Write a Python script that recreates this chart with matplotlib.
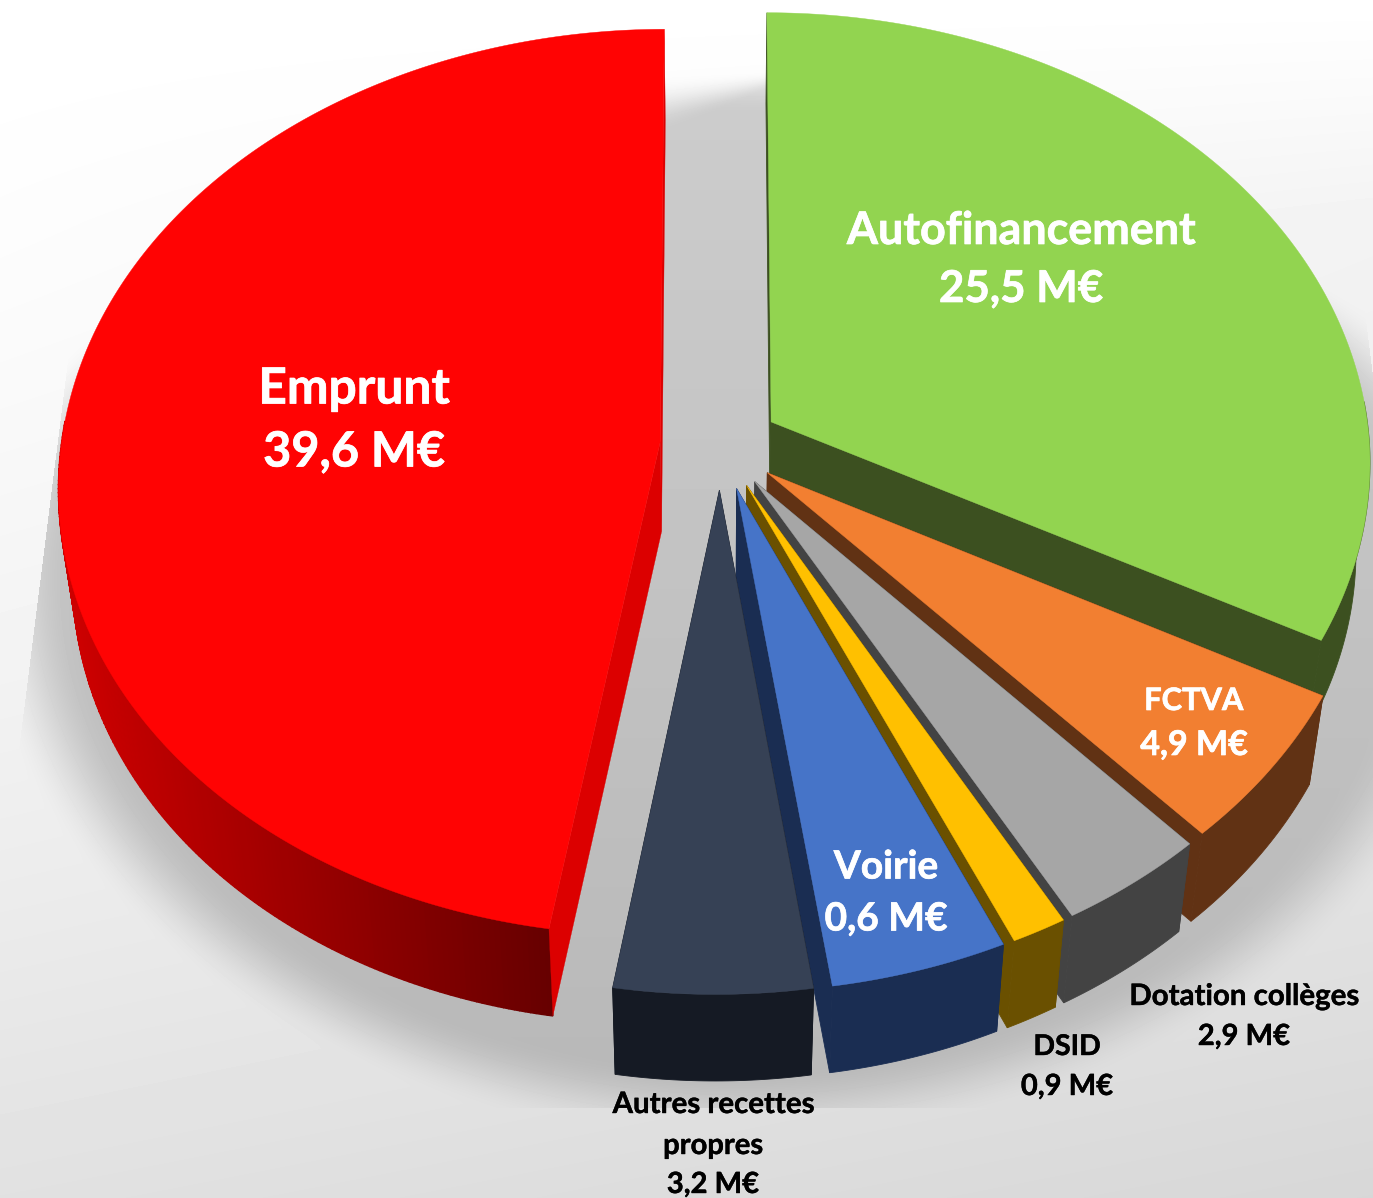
import numpy as np
import matplotlib
matplotlib.use("Agg")
import matplotlib.pyplot as plt
import matplotlib.patheffects as pe

# slices clockwise from 12 o'clock
names = ["Autofinancement", "FCTVA", "Dotation collèges", "DSID", "Voirie", "Autres recettes propres", "Emprunt"]
# share of the disc as drawn, in degrees (the "Voirie" slice is drawn bigger than its label says)
slice_degrees = [118, 19.7, 13.3, 4.9, 15.6, 17.4, 171]
top_colors = ["#92D450", "#F27F31", "#A6A6A6", "#FFC000", "#4674C8", "#364155", "#FF0303"]
wall_colors = ["#3C5020", "#613214", "#434343", "#6A5000", "#1A2D52", "#151A24", "#DC0000"]

white_labels = ["Autofinancement", "25,5 M€", "Emprunt", "39,6 M€", "FCTVA", "4,9 M€", "Voirie", "0,6 M€"]
white_sizes = [32.3, 31.6, 35.8, 35, 22.2, 24.5, 28, 28]
white_spots = [(1021, 231), (1021, 289), (354, 389), (354, 452), (1194, 701), (1194, 745), (886, 867), (886, 919)]
black_labels = ["Dotation collèges", "2,9 M€", "DSID", "0,9 M€", "Autres recettes", "propres", "3,2 M€"]
black_sizes = [21.2, 21, 20.5, 21, 21.2, 21, 21]
black_spots = [(1244, 997), (1244, 1037), (1067, 1047), (1067, 1087), (713, 1105), (713, 1146), (713, 1185)]

W, H = 1373, 1198
EXPLODE = 0.1
CX, CY, SX, SY = 720, 445, 599, 450
PERSP, DEPTH_W, DEPTH_Y = 0.09, 0.022, 92
SHEAR = 4


def project(px, py, low=0.0):
    w = 1 + PERSP * py + DEPTH_W * low
    # the near side of the disc leans a few pixels to the left
    lean = SHEAR * np.minimum(py, 0)
    return CX + SX * px / w + lean, CY + (-SY * py + DEPTH_Y * low) / w


def smooth(t):
    t = np.clip(t, 0, 1)
    return t * t * (3 - 2 * t)


def background():
    yy, xx = np.mgrid[0:H, 0:W].astype(float)
    bg = 255 - 30 * (yy / H) ** 1.5 - 10 * (xx / W) * np.minimum(1, yy / 220)

    # blurred floor shadow, cut by the box it was rendered in
    dy = yy - 560
    r1 = np.sqrt(((xx - 740) / 720) ** 2 + (dy / np.where(dy < 0, 400, 545)) ** 2)
    r2 = np.sqrt(((xx - 730) / 600) ** 2 + ((yy - 500) / 430) ** 2)
    alpha = np.maximum(1 - smooth((r1 - 0.93) / 0.14), 1 - smooth((r2 - 0.9) / 0.16))
    alpha = alpha * smooth((yy - 70) / (60 - 40 * np.clip((xx - 670) / 95, 0, 1)))
    alpha[(yy > 1107) | (yy < 70)] = 0
    alpha[xx < 71 - 0.126 * (yy - 333)] = 0
    alpha[xx > 1363 + 0.126 * (yy - 300)] = 0
    shade = 204 - 20 * (yy - 100) / 1000
    return (bg * (1 - alpha) + shade * alpha) / 255


def red_side(x):
    t = np.clip((x - 70) / 480, 0, 1)
    return (0.80 - 0.40 * t, 0, 0)


fig = plt.figure(figsize=(W / 100, H / 100), dpi=100)
ax = fig.add_axes([0, 0, 1, 1])
ax.set_xlim(0, W)
ax.set_ylim(H, 0)
ax.axis("off")
ax.imshow(background(), cmap="gray", vmin=0, vmax=1, extent=(0, W, H, 0), aspect="auto", zorder=0)

start = 90.0
z = 1
for name, size, top_c, wall_c in zip(names, slice_degrees, top_colors, wall_colors):
    end = start - size
    mid = np.radians((start + end) / 2)
    ox, oy = EXPLODE * np.cos(mid), EXPLODE * np.sin(mid)
    angles = np.radians(np.linspace(start, end, max(int(size * 2), 6)))
    rim_x, rim_y = ox + np.cos(angles), oy + np.sin(angles)

    tx, ty = project(rim_x, rim_y)
    bx, by = project(rim_x, rim_y, 1)
    ax_t, ay_t = project(ox, oy)
    ax_b, ay_b = project(ox, oy, 1)

    # outer wall: only the near half of the rim can be seen
    front = np.sin(angles) < 0.05
    fx, fy, gx, gy = tx[front], ty[front], bx[front], by[front]
    if name == "Emprunt":
        for i in range(len(fx) - 1):
            c = red_side((fx[i] + fx[i + 1]) / 2)
            ax.fill([fx[i], fx[i + 1], gx[i + 1], gx[i]], [fy[i], fy[i + 1], gy[i + 1], gy[i]], color=c, lw=1, zorder=z)
    else:
        ax.fill(np.r_[fx, gx[::-1]], np.r_[fy, gy[::-1]], color=wall_c, lw=0.6, zorder=z)

    # the two cut walls
    for i in (0, -1):
        ax.fill([ax_t, tx[i], bx[i], ax_b], [ay_t, ty[i], by[i], ay_b], color=wall_c, lw=0.6 if name != "Emprunt" else 0.2, zorder=z)

    ax.fill(np.r_[ax_t, tx], np.r_[ay_t, ty], color=top_c, lw=0.3, zorder=z)
    start = end
    z += 1

bolder = [pe.withStroke(linewidth=0.5, foreground="white")]
for line, size, (x, y) in zip(white_labels, white_sizes, white_spots):
    ax.text(x, y, line, color="white", fontsize=size, fontweight="bold", family="Lato",
            ha="center", va="center", zorder=20, path_effects=bolder)

bolder = [pe.withStroke(linewidth=0.3, foreground="black")]
for line, size, (x, y) in zip(black_labels, black_sizes, black_spots):
    ax.text(x, y, line, color="black", fontsize=size, fontweight="bold", family="Lato",
            ha="center", va="center", zorder=20, path_effects=bolder)

fig.savefig("out.png", dpi=100)
